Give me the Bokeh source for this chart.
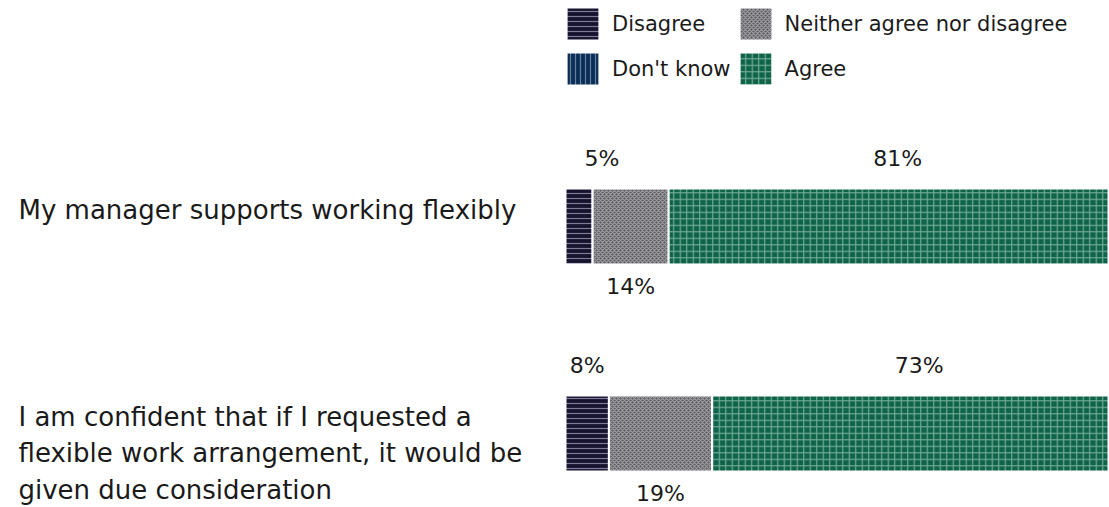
from bokeh.plotting import figure
from bokeh.models import ColumnDataSource, Range1d, Legend, LegendItem
from bokeh.core.properties import value
from bokeh.embed import file_html
from bokeh.resources import INLINE

# ---- data ----
questions = [
    "My manager supports working flexibly",
    "I am confident that if I requested a\nflexible work arrangement, it would be\ngiven due consideration",
]
series = ["Disagree", "Don't know", "Neither agree nor disagree", "Agree"]
disagree = [5, 8]
dont_know = [0, 0]
neither = [14, 19]
agree = [81, 73]

# ---- styles ----
FONT = "DejaVu Sans"
TXT = "#1a1a1a"
fills = ["#16132e", "#0c2d55", "#606065", "#0e6349"]
hatches = ["horizontal_line", "vertical_line", "diagonal_cross", "cross"]
hatch_cols = ["#8a86a0", "#6f88a8", "#a3a3a7", "#7db39f"]
hatch_scales = [5, 5, 4, 6.5]

W, H = 1109, 507
# pixel layout (frame px)
x0_px, x100_px = 565, 1108
row0_px, row_step_px = 226, 207
bar_h_px = 76
sx = (x100_px - x0_px) / 100.0
x_start = -x0_px / sx
x_end = x_start + W / sx
y_top = -row0_px / row_step_px
y_bot = (H - row0_px) / row_step_px
bar_h = bar_h_px / row_step_px

rows = list(range(len(questions)))
src = ColumnDataSource(dict(
    row=rows, Disagree=disagree, DontKnow=dont_know, Neither=neither, Agree=agree,
))

p = figure(width=W, height=H, output_backend="svg", toolbar_location=None,
           x_range=Range1d(x_start, x_end), y_range=Range1d(y_bot, y_top),
           min_border=0, outline_line_color=None,
           x_axis_location=None, y_axis_location=None)
p.grid.visible = False
p.background_fill_color = "white"
p.border_fill_color = "white"

keys = ["Disagree", "DontKnow", "Neither", "Agree"]
renderers = p.hbar_stack(keys, y="row", height=bar_h, source=src,
                         fill_color=fills, line_color="white", line_width=2,
                         hatch_pattern=hatches, hatch_color=hatch_cols,
                         hatch_scale=hatch_scales, hatch_weight=1.2, hatch_alpha=0.9)

# ---- value labels ----
def cum(*arrs):
    return [sum(a[i] for a in arrs) for i in range(len(arrs[0]))]

top_edge = [r - bar_h / 2 for r in rows]
bot_edge = [r + bar_h / 2 for r in rows]

dis_x = [d / 2 for d in disagree]
dis_dx = [23, 0]
for i in rows:
    p.text(x=[dis_x[i]], y=[top_edge[i]], text=[f"{disagree[i]}%"], x_offset=dis_dx[i], y_offset=-30,
           text_align="center", text_baseline="middle", text_font=value(FONT),
           text_font_size="22px", text_color=TXT)

nei_x = [a + b / 2 for a, b in zip(cum(disagree, dont_know), neither)]
p.text(x=nei_x, y=bot_edge, text=[f"{v}%" for v in neither], y_offset=22,
       text_align="center", text_baseline="middle", text_font=value(FONT),
       text_font_size="22px", text_color=TXT)

agr_x = [a + b / 2 for a, b in zip(cum(disagree, dont_know, neither), agree)]
p.text(x=agr_x, y=top_edge, text=[f"{v}%" for v in agree], x_offset=9, y_offset=-30,
       text_align="center", text_baseline="middle", text_font=value(FONT),
       text_font_size="22px", text_color=TXT)

# ---- question labels ----
lab_x = (18 - x0_px) / sx
p.text(x=[lab_x] * len(rows), y=top_edge, text=questions, y_offset=6,
       text_align="left", text_baseline="top", text_font=value(FONT),
       text_font_size="26px", text_color=TXT, text_line_height=1.22)

# ---- legend ----
items = [LegendItem(label=series[i], renderers=[renderers[i]]) for i in range(4)]
legend = Legend(items=items, orientation="vertical", nrows=2,
                location=(562, H - 89), padding=0, margin=0, spacing=4,
                glyph_width=41, glyph_height=41, label_standoff=9,
                label_text_font=FONT, label_text_font_size="21px", label_text_color=TXT,
                border_line_alpha=0, background_fill_alpha=0)
p.add_layout(legend)

open("out.html", "w").write(file_html(p, INLINE))
